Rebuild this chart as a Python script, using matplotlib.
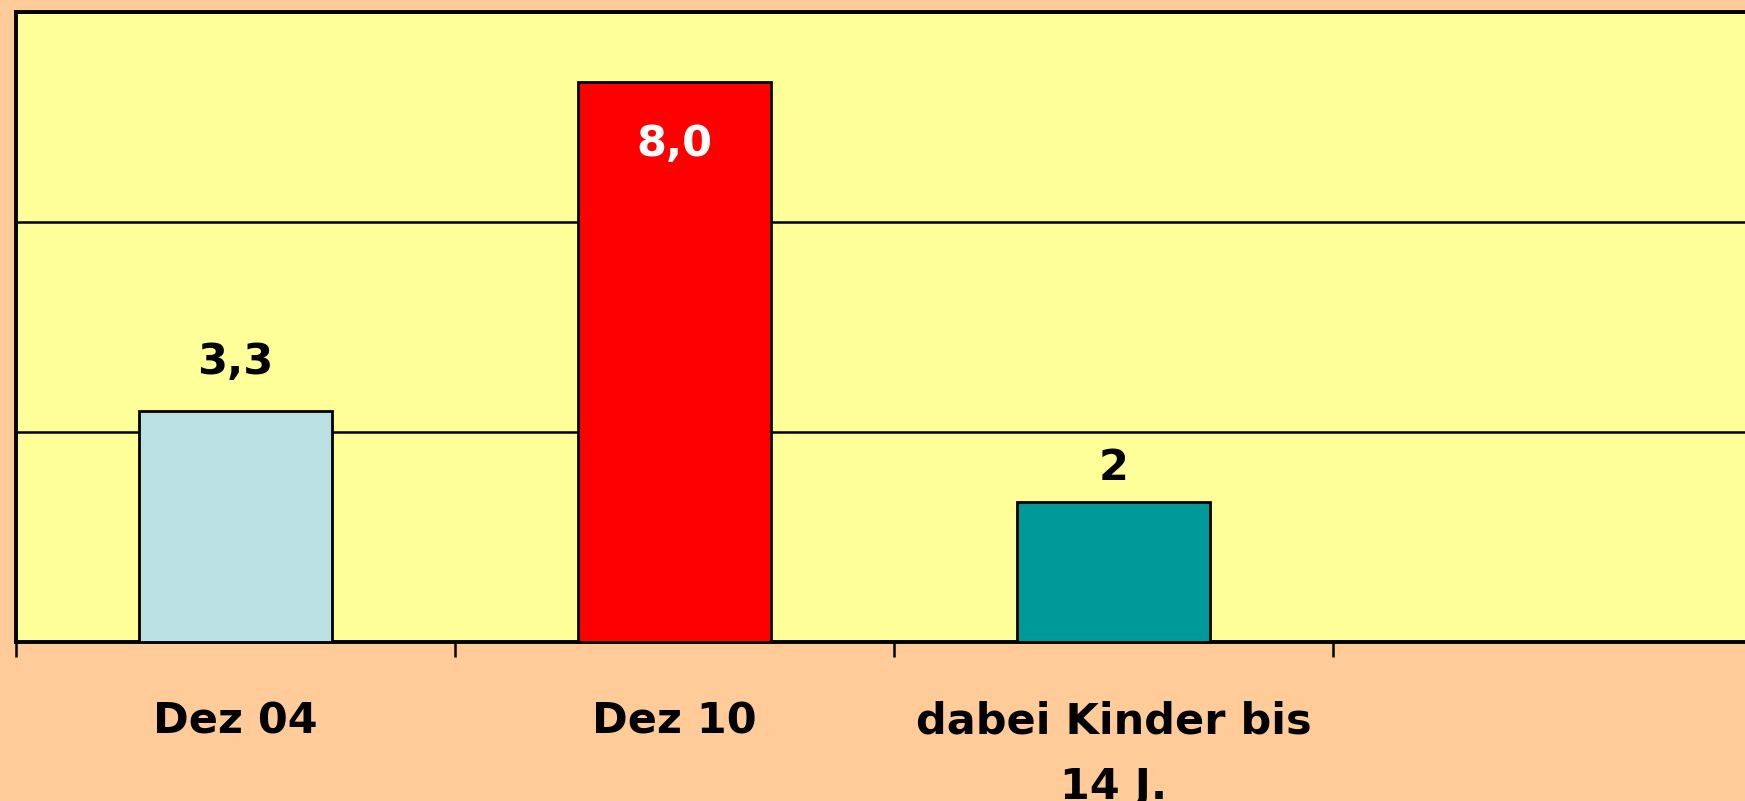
import matplotlib
matplotlib.use('Agg')
from matplotlib import pyplot as plt
from matplotlib.ticker import FixedLocator

# data
categories = ['Dez 04', 'Dez 10', 'dabei Kinder bis\n14 J.']
values = [3.3, 8.0, 2]
labels = ['3,3', '8,0', '2']
bar_colors = ['#BBE0E3', '#FF0000', '#009999']
label_colors = ['black', 'white', 'black']
n_slots = 4  # one empty category slot on the right

# label baseline offsets (points) relative to the bar top
label_offsets = [27, -53, 16]

plt.rcParams['font.family'] = ['DejaVu Sans']

fig = plt.figure(figsize=(17.45, 8.01), dpi=100)
fig.patch.set_facecolor('#FFCC99')
ax = fig.add_axes([15.6/1745, (801-642)/801, (1772-15.6)/1745, 630/801])
ax.set_facecolor('#FFFF99')

x = list(range(len(values)))
ax.bar(x, values, width=0.44, color=bar_colors, edgecolor='black', linewidth=2, zorder=3)

for xi, v, lab, c, off in zip(x, values, labels, label_colors, label_offsets):
    ax.annotate(lab, (xi, v), xytext=(0, off), textcoords='offset points',
                ha='center', va='baseline', fontsize=31, fontweight='bold', color=c, zorder=4)

ax.set_xlim(-0.5, n_slots - 0.5)
ax.set_ylim(0, 9)
ax.set_yticks([3, 6, 9])
ax.yaxis.grid(True, color='black', linewidth=1.8, zorder=1)
ax.tick_params(axis='y', left=False, labelleft=False)

# ticks at the category boundaries, labels at the centres
ax.xaxis.set_major_locator(FixedLocator([i - 0.5 for i in range(n_slots + 1)]))
ax.xaxis.set_minor_locator(FixedLocator(x))
ax.set_xticklabels([''] * (n_slots + 1))
ax.set_xticklabels(categories, minor=True, fontsize=31, fontweight='bold', linespacing=1.72)
ax.tick_params(axis='x', which='major', direction='out', length=11, width=1.8, color='black')
ax.tick_params(axis='x', which='minor', length=0, pad=42)

for s in ['left', 'top', 'bottom']:
    ax.spines[s].set_linewidth(2.8)
    ax.spines[s].set_color('black')
ax.spines['right'].set_visible(False)

plt.savefig('out.png', dpi=100, facecolor=fig.get_facecolor())
